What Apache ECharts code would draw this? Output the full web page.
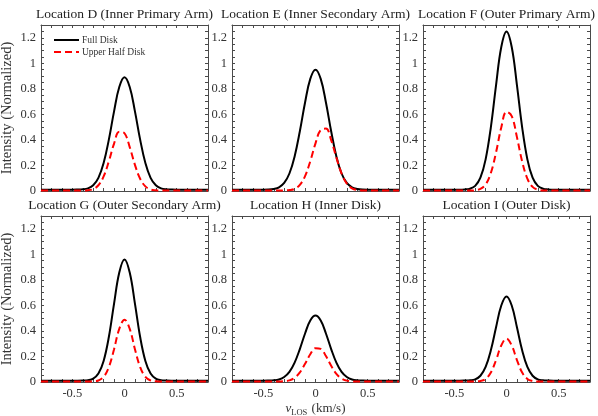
<!DOCTYPE html>
<html><head><meta charset="utf-8">
<script src="https://cdn.jsdelivr.net/npm/echarts@6/dist/echarts.min.js"></script>
<style>html,body{margin:0;padding:0;background:#fff}#c{width:598px;height:416px}</style>
</head><body><div id="c"></div>
<script>
// ---- data ----
const vlos = [-0.8,-0.75,-0.7,-0.65,-0.6,-0.55,-0.5,-0.45,-0.4,-0.35,-0.3,-0.25,-0.2,-0.15,-0.1,-0.05,0,0.05,0.1,0.15,0.2,0.25,0.3,0.35,0.4,0.45,0.5,0.55,0.6,0.65,0.7,0.75,0.8];

const panelTitles = ['Location D (Inner Primary Arm)','Location E (Inner Secondary Arm)','Location F (Outer Primary Arm)','Location G (Outer Secondary Arm)','Location H (Inner Disk)','Location I (Outer Disk)'];
const seriesNames = ['Full Disk','Upper Half Disk'];
const xTickLabels = [-0.5, 0, 0.5];
const yTickLabels = [0, 0.2, 0.4, 0.6, 0.8, 1, 1.2];

const fullD = [0.01,0.01,0.01,0.01,0.01,0.01,0.01,0.011,0.013,0.021,0.045,0.103,0.219,0.402,0.624,0.814,0.89,0.814,0.624,0.402,0.219,0.103,0.045,0.021,0.013,0.011,0.01,0.01,0.01,0.01,0.01,0.01,0.01];
const halfD = [0.003,0.003,0.003,0.003,0.003,0.003,0.003,0.003,0.004,0.006,0.015,0.045,0.114,0.232,0.371,0.464,0.452,0.344,0.205,0.096,0.036,0.012,0.005,0.003,0.003,0.003,0.003,0.003,0.003,0.003,0.003,0.003,0.003];

const fullE = [0.01,0.01,0.01,0.01,0.01,0.01,0.01,0.011,0.016,0.029,0.063,0.137,0.271,0.468,0.693,0.878,0.95,0.878,0.693,0.468,0.271,0.137,0.063,0.029,0.016,0.011,0.01,0.01,0.01,0.01,0.01,0.01,0.01];
const halfE = [0.003,0.003,0.003,0.003,0.003,0.003,0.003,0.003,0.003,0.003,0.004,0.007,0.017,0.048,0.117,0.233,0.373,0.478,0.489,0.399,0.261,0.137,0.058,0.021,0.008,0.004,0.003,0.003,0.003,0.003,0.003,0.003,0.003];

const fullF = [0.01,0.01,0.01,0.01,0.01,0.01,0.01,0.01,0.012,0.018,0.04,0.104,0.248,0.499,0.83,1.128,1.25,1.128,0.83,0.499,0.248,0.104,0.04,0.018,0.012,0.01,0.01,0.01,0.01,0.01,0.01,0.01,0.01];
const halfF = [0.003,0.003,0.003,0.003,0.003,0.003,0.003,0.003,0.003,0.003,0.006,0.016,0.051,0.141,0.303,0.498,0.62,0.587,0.422,0.231,0.097,0.032,0.01,0.004,0.003,0.003,0.003,0.003,0.003,0.003,0.003,0.003,0.003];

const fullG = [0.01,0.01,0.01,0.01,0.01,0.01,0.01,0.01,0.011,0.014,0.026,0.066,0.165,0.352,0.614,0.858,0.96,0.858,0.614,0.352,0.165,0.066,0.026,0.014,0.011,0.01,0.01,0.01,0.01,0.01,0.01,0.01,0.01];
const halfG = [0.003,0.003,0.003,0.003,0.003,0.003,0.003,0.003,0.003,0.003,0.005,0.012,0.04,0.116,0.257,0.416,0.488,0.416,0.257,0.116,0.04,0.012,0.005,0.003,0.003,0.003,0.003,0.003,0.003,0.003,0.003,0.003,0.003];

const fullH = [0.01,0.01,0.01,0.01,0.01,0.01,0.01,0.011,0.013,0.02,0.039,0.079,0.152,0.258,0.38,0.481,0.52,0.481,0.38,0.258,0.152,0.079,0.039,0.02,0.013,0.011,0.01,0.01,0.01,0.01,0.01,0.01,0.01];
const halfH = [0.003,0.003,0.003,0.003,0.003,0.003,0.003,0.003,0.003,0.004,0.006,0.013,0.033,0.075,0.142,0.217,0.265,0.259,0.203,0.127,0.064,0.027,0.011,0.005,0.003,0.003,0.003,0.003,0.003,0.003,0.003,0.003,0.003];

const fullI = [0.01,0.01,0.01,0.01,0.01,0.01,0.01,0.01,0.011,0.013,0.021,0.049,0.118,0.248,0.429,0.599,0.67,0.599,0.429,0.248,0.118,0.049,0.021,0.013,0.011,0.01,0.01,0.01,0.01,0.01,0.01,0.01,0.01];
const halfI = [0.003,0.003,0.003,0.003,0.003,0.003,0.003,0.003,0.003,0.003,0.004,0.008,0.024,0.074,0.172,0.286,0.34,0.286,0.172,0.074,0.024,0.008,0.004,0.003,0.003,0.003,0.003,0.003,0.003,0.003,0.003,0.003,0.003];

const fullDisk = [fullD, fullE, fullF, fullG, fullH, fullI];
const upperHalf = [halfD, halfE, halfF, halfG, halfH, halfI];

// ---- layout / styling ----
const FONT = 'Liberation Serif';
const AX = '#4a4a4a';
const lefts = [41, 232, 423];
const tops = [25, 216];
const W = 167, H = 166;

function near(v, list) {
  const r = Math.round(v * 1000) / 1000;
  return list.some(t => Math.abs(t - r) < 1e-6);
}

const grid = [], xAxis = [], yAxis = [], series = [], title = [];
for (let i = 0; i < 6; i++) {
  const row = Math.floor(i / 3), col = i % 3;
  grid.push({left: lefts[col], top: tops[row], width: W, height: H, containLabel: false, outerBoundsMode: 'none'});
  title.push({
    text: panelTitles[i], left: lefts[col] + W / 2, top: tops[row] - 18, textAlign: 'center', padding: 0,
    textStyle: {fontFamily: FONT, fontSize: 13.5, fontWeight: 'normal', color: '#222'}
  });
  const common = (pos) => ({
    gridIndex: i, type: 'value', position: pos,
    axisLine: {show: true, onZero: false, lineStyle: {color: AX, width: 1}},
    axisTick: {show: true, inside: true, length: 3, lineStyle: {color: AX, width: 1}},
    splitLine: {show: false}
  });
  xAxis.push(Object.assign(common('bottom'), {
    min: -0.8, max: 0.8, interval: 0.1,
    axisLabel: {show: row === 1, margin: 5, fontFamily: FONT, fontSize: 12.5, color: '#333',
      formatter: v => near(v, xTickLabels) ? String(Math.round(v * 10) / 10) : ''},
    name: (row === 1 && col === 1) ? '{i|v}{s|LOS} (km/s)' : '',
    nameLocation: 'middle', nameGap: 19,
    nameTextStyle: {fontFamily: FONT, fontSize: 13, color: '#333',
      rich: {i: {fontFamily: FONT, fontStyle: 'italic', fontSize: 13, color: '#333'},
             s: {fontFamily: FONT, fontSize: 8.5, color: '#333', padding: [7, 1, 0, 0]}}}
  }));
  xAxis.push(Object.assign(common('top'), {
    min: -0.8, max: 0.8, interval: 0.1, axisLabel: {show: false}
  }));
  yAxis.push(Object.assign(common('left'), {
    min: 0, max: 1.3, interval: 0.05,
    axisLabel: {show: true, margin: 5, fontFamily: FONT, fontSize: 12.5, color: '#333',
      formatter: v => near(v, yTickLabels) ? String(Math.round(v * 10) / 10) : ''},
    name: col === 0 ? 'Intensity (Normalized)' : '',
    nameLocation: 'middle', nameGap: 26, nameRotate: 90,
    nameTextStyle: {fontFamily: FONT, fontSize: 14.5, color: '#333'}
  }));
  yAxis.push(Object.assign(common('right'), {
    min: 0, max: 1.3, interval: 0.05, axisLabel: {show: false}
  }));
  series.push({
    type: 'line', name: seriesNames[0], xAxisIndex: 2 * i, yAxisIndex: 2 * i,
    data: vlos.map((x, k) => [x, fullDisk[i][k]]),
    symbol: 'none', showSymbol: false, smooth: 0.4, z: 2,
    lineStyle: {color: '#000', width: 2}, itemStyle: {color: '#000'}
  });
  series.push({
    type: 'line', name: seriesNames[1], xAxisIndex: 2 * i, yAxisIndex: 2 * i,
    data: vlos.map((x, k) => [x, upperHalf[i][k]]),
    symbol: 'none', showSymbol: false, smooth: 0.4, z: 3,
    lineStyle: {color: '#ff0000', width: 2, type: [7, 4]}, itemStyle: {color: '#ff0000'}
  });
}

const chart = echarts.init(document.getElementById('c'), null, {renderer: 'canvas'});
chart.setOption({
  animation: false,
  backgroundColor: '#fff',
  textStyle: {fontFamily: FONT},
  title, grid, xAxis, yAxis, series,
  legend: {
    data: seriesNames, left: 48, top: 30, orient: 'vertical', padding: 5,
    itemWidth: 25, itemHeight: 10, itemGap: 2,
    itemStyle: {opacity: 0},
    textStyle: {fontFamily: FONT, fontSize: 9.5, color: '#333', padding: [0, 0, 0, -2]}
  }
});
</script>
</body></html>
